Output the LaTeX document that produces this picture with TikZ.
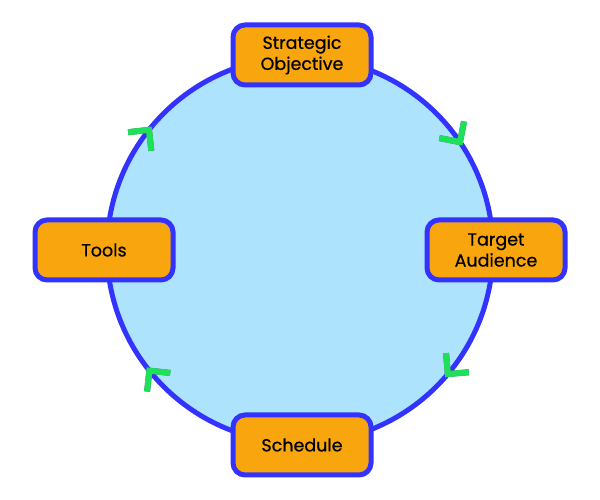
\documentclass[tikz,border=0pt]{standalone}
\usepackage{fontspec}
\setmainfont{Poppins}
\newfontfamily\boxfont{Poppins}[FakeBold=0.6]
\usetikzlibrary{calc}
\definecolor{ringblue}{HTML}{3333FF}
\definecolor{skyfill}{HTML}{ADE3FC}
\definecolor{boxorange}{HTML}{F9A60E}
\definecolor{chevgreen}{HTML}{1EE05A}
\definecolor{chevshadow}{HTML}{555555}
\tikzset{
  stagebox/.style={draw=ringblue, fill=boxorange, line width=5pt, rounded corners=12pt,
    minimum width=138pt, minimum height=60pt, align=center, text=black,
    font=\boxfont\fontsize{17.5pt}{21pt}\selectfont, inner sep=2pt},
  ring/.style={draw=ringblue, fill=skyfill, line width=5pt},
  chev/.style={draw=chevgreen, line width=6pt, miter limit=10},
  chevshade/.style={draw=chevshadow, line width=6pt, miter limit=10}
}
\begin{document}
\begin{tikzpicture}[x=1pt,y=1pt]
\useasboundingbox (0,0) rectangle (600,500);
\coordinate (c) at (300,250);
\draw[ring] (c) circle[radius=193];
\foreach \a/\n in {34/a,141.5/b,218.7/d,320/e}{
  \coordinate (v\n) at ($(c)+(\a:193)$);
  \coordinate (p\n) at ($(v\n)+(\a+45:21)$);
  \coordinate (q\n) at ($(v\n)+(\a+135:21)$);
  \draw[chevshade, shift={(1.5,-2)}] (p\n) -- (v\n) -- (q\n);
  \draw[chev] (p\n) -- (v\n) -- (q\n);
}
\node[stagebox] (obj) at (302,445) {Strategic\\Objective};
\node[stagebox] (aud) at (496,250) {Target\\Audience};
\node[stagebox] (sch) at (302,55) {Schedule};
\node[stagebox] (tls) at (104,250) {Tools};
\end{tikzpicture}
\end{document}
